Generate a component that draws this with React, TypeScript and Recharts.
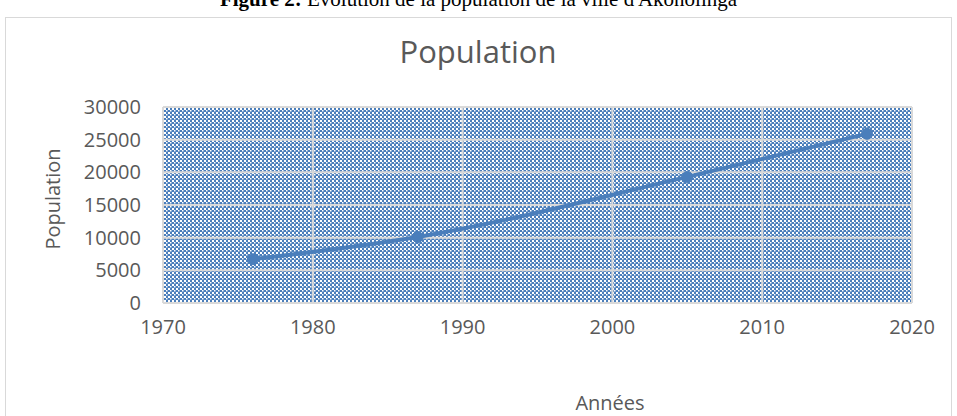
import React from "react";
import {
  LineChart,
  Line,
  XAxis,
  YAxis,
  CartesianGrid,
} from "recharts";

// Données (recensements)
const years = [1976, 1987, 2005, 2017];
const population = [6700, 10100, 19300, 25900];
const xTicks = [1970, 1980, 1990, 2000, 2010, 2020];
const yTicks = [0, 5000, 10000, 15000, 20000, 25000, 30000];

const chartData = years.map((year, i) => ({ year, population: population[i] }));

const blue = "#4a7ebb";
const textGray = "#595959";
const font = "'Open Sans', sans-serif";

export default function App() {
  return (
    <div
      style={{
        position: "absolute",
        left: 0,
        top: 0,
        width: 957,
        height: 416,
        overflow: "hidden",
        background: "white",
      }}
    >
      {/* légende de la figure, coupée en haut */}
      <div
        style={{
          position: "absolute",
          top: -13,
          left: 0,
          width: 957,
          textAlign: "center",
          fontFamily: "'Liberation Serif', serif",
          fontSize: 21,
          color: "#000",
          whiteSpace: "nowrap",
        }}
      >
        <b>Figure 2:</b> Evolution de la population de la ville d'Akonolinga
      </div>
      {/* cadre du graphique */}
      <div
        style={{
          position: "absolute",
          left: 5,
          top: 17,
          width: 945,
          height: 420,
          border: "1.5px solid #d9d9d9",
        }}
      />
      <div style={{ position: "absolute", left: 0, top: 0 }}>
        <LineChart
          width={957}
          height={416}
          data={chartData}
          margin={{ top: 107, right: 45, bottom: 83, left: 62 }}
        >
          <defs>
            <pattern id="dots" width="4" height="4" patternUnits="userSpaceOnUse">
              <rect width="4" height="4" fill={blue} />
              <rect x="0" y="0" width="2" height="2" fill="#ffffff" />
              <rect x="2" y="2" width="1.5" height="1.5" fill="#ffffff" />
            </pattern>
          </defs>
          <text
            x={478}
            y={63}
            textAnchor="middle"
            fontFamily={font}
            fontSize={31}
            fill={textGray}
          >
            Population
          </text>
          <text
            x={610}
            y={410}
            textAnchor="middle"
            fontFamily={font}
            fontSize={20}
            fill={textGray}
          >
            Années
          </text>
          <text
            x={60}
            y={199}
            textAnchor="middle"
            transform="rotate(-90 60 199)"
            fontFamily={font}
            fontSize={20}
            fill={textGray}
          >
            Population
          </text>
          <CartesianGrid
            fill="url(#dots)"
            fillOpacity={1}
            stroke="#d9d9d9"
            strokeWidth={2}
          />
          <XAxis
            dataKey="year"
            type="number"
            domain={[1970, 2020]}
            ticks={xTicks}
            interval={0}
            axisLine={false}
            tickLine={false}
            tickSize={0}
            tickMargin={17}
            tick={{ fill: textGray, fontSize: 20, fontFamily: font }}
          />
          <YAxis
            type="number"
            domain={[0, 30000]}
            ticks={yTicks}
            interval={0}
            width={101}
            axisLine={false}
            tickLine={false}
            tickSize={0}
            tickMargin={22}
            tick={{ fill: textGray, fontSize: 20, fontFamily: font }}
          />
          <Line
            type="monotone"
            dataKey="population"
            stroke={blue}
            strokeWidth={4}
            dot={{ r: 5.5, fill: blue, stroke: blue, strokeWidth: 1 }}
            isAnimationActive={false}
          />
        </LineChart>
      </div>
    </div>
  );
}
